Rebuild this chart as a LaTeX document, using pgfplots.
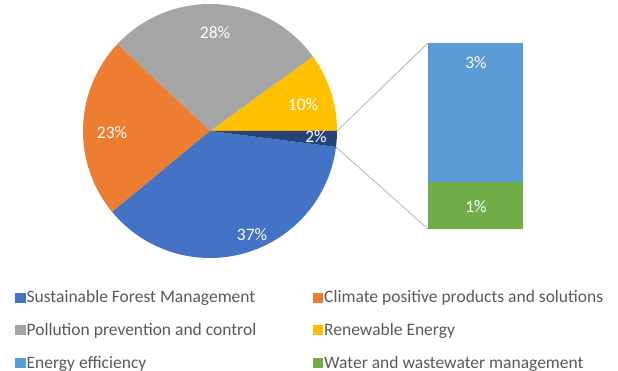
\documentclass[border=0pt]{standalone}
\usepackage{pgfplots}
\pgfplotsset{compat=1.18}
\usepackage{fontspec}
\setmainfont{Carlito}
\definecolor{cBlue}{HTML}{4472C4}
\definecolor{cOrange}{HTML}{ED7D31}
\definecolor{cGray}{HTML}{A5A5A5}
\definecolor{cYellow}{HTML}{FFC000}
\definecolor{cLBlue}{HTML}{5B9BD5}
\definecolor{cGreen}{HTML}{70AD47}
\definecolor{cNavy}{HTML}{264478}
\definecolor{cText}{HTML}{595959}
\definecolor{cLine}{HTML}{BFBFBF}
% Shares (percent): Sustainable Forest Management 37, Climate positive 23,
% Pollution prevention 28, Renewable Energy 10, Other 2 (= Energy efficiency 3 + Water 1 in bar)
% slice angles (deg, counter-clockwise from 3 o'clock) = cumulative share * 3.6
\begin{document}
\begin{tikzpicture}[font=\fontsize{17.5bp}{20bp}\selectfont]
\useasboundingbox (0,0) rectangle (618bp,371bp);
\begin{axis}[
  scale only axis, width=618bp, height=371bp,
  xmin=0, xmax=618, ymin=0, ymax=371,
  hide axis, clip=false,
  legend columns=2,
  legend cell align=left,
  legend image code/.code={\fill[#1] (0bp,-4.5bp) rectangle (9.5bp,4.5bp);},
  legend style={at={(axis cs:15,82)}, anchor=north west, draw=none, fill=none,
    inner sep=0pt, row sep=16bp, text=cText,
    font=\fontsize{17.5bp}{20bp}\selectfont,
    nodes={inner sep=1.5bp},
    /tikz/every even column/.append style={column sep=55bp}},
]
% pie: centre (210,240), radius 127
\addplot[fill=cYellow, draw=none, domain=0:36, samples=30, variable=\t, forget plot]
  ({210+127*cos(t)},{240+127*sin(t)}) -- (axis cs:210,240) -- cycle;
\addplot[fill=cGray, draw=none, domain=36:136.8, samples=60, variable=\t, forget plot]
  ({210+127*cos(t)},{240+127*sin(t)}) -- (axis cs:210,240) -- cycle;
\addplot[fill=cOrange, draw=none, domain=136.8:219.6, samples=60, variable=\t, forget plot]
  ({210+127*cos(t)},{240+127*sin(t)}) -- (axis cs:210,240) -- cycle;
\addplot[fill=cBlue, draw=none, domain=219.6:352.8, samples=80, variable=\t, forget plot]
  ({210+127*cos(t)},{240+127*sin(t)}) -- (axis cs:210,240) -- cycle;
\addplot[fill=cNavy, draw=none, domain=352.8:360, samples=10, variable=\t, forget plot]
  ({210+127*cos(t)},{240+127*sin(t)}) -- (axis cs:210,240) -- cycle;
% connector lines
\addplot[cLine, line width=1bp, forget plot] coordinates {(337,240) (428,328)};
\addplot[cLine, line width=1bp, forget plot] coordinates {(336,224) (428,142)};
% pie labels
\node[text=white] at (axis cs:215,338) {28\%};
\node[text=white] at (axis cs:112,238) {23\%};
\node[text=white] at (axis cs:303,266) {10\%};
\node[text=white] at (axis cs:316,234) {2\%};
\node[text=white] at (axis cs:252,136) {37\%};
% legend
\addlegendimage{cBlue}\addlegendentry{Sustainable Forest Management}
\addlegendimage{cOrange}\addlegendentry{Climate positive products and solutions}
\addlegendimage{cGray}\addlegendentry{Pollution prevention and control}
\addlegendimage{cYellow}\addlegendentry{Renewable Energy}
\addlegendimage{cLBlue}\addlegendentry{Energy efficiency}
\addlegendimage{cGreen}\addlegendentry{Water and wastewater management}
\end{axis}
\begin{axis}[
  at={(428bp,142bp)}, anchor=south west,
  scale only axis, width=95bp, height=186bp,
  xmin=-0.5, xmax=0.5, ymin=0, ymax=4,
  hide axis, clip=false,
  ybar stacked, bar width=95bp, bar shift=0pt,
]
\addplot[fill=cGreen, draw=none] coordinates {(0,1)};
\addplot[fill=cLBlue, draw=none] coordinates {(0,3)};
\end{axis}
% bar labels (positioned in the same 1bp = 1px frame)
\node[text=white] at (476bp,308bp) {3\%};
\node[text=white] at (476bp,164bp) {1\%};
\end{tikzpicture}
\end{document}
